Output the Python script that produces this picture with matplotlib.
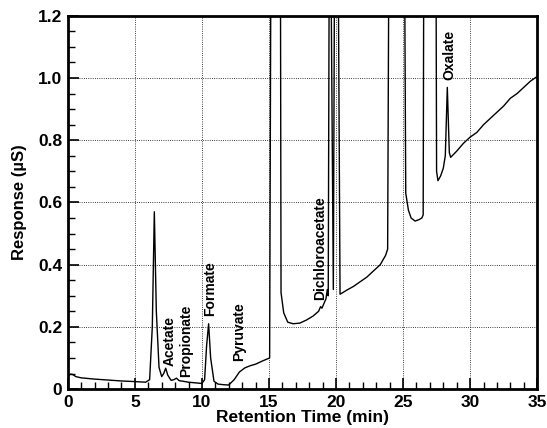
import matplotlib
matplotlib.use("Agg")
import matplotlib.pyplot as plt
from matplotlib.ticker import MultipleLocator

# chromatogram trace (values above 1.2 are off-scale peaks)
time_min = [0.0, 0.2, 0.35, 0.6, 1.0, 2.0, 3.0, 4.0, 5.0, 5.8, 6.1, 6.3, 6.45, 6.6, 6.8,
            7.0, 7.15, 7.3, 7.45, 7.7, 7.9, 8.1, 8.3, 8.6, 9.0, 9.5, 10.0, 10.2, 10.35,
            10.5, 10.65, 10.9, 11.2, 11.6, 12.0, 12.4, 12.8, 13.2, 13.6, 14.0, 14.5,
            15.05, 15.15, 15.85, 15.9, 16.1, 16.4, 16.8, 17.3, 17.8, 18.3, 18.7, 18.85,
            18.95, 19.1, 19.25, 19.35, 19.42, 19.5, 19.6, 19.8, 19.9, 20.15, 20.3, 20.5,
            20.8, 21.3, 21.8, 22.3, 22.8, 23.3, 23.7, 23.85, 23.95, 25.1, 25.2, 25.4,
            25.6, 25.9, 26.2, 26.4, 26.5, 26.55, 27.45, 27.5, 27.6, 27.8, 28.0, 28.15,
            28.3, 28.45, 28.55, 29.0, 29.5, 30.0, 30.5, 31.0, 31.5, 32.0, 32.5, 33.0,
            33.5, 34.0, 34.5, 35.0]
response_us = [0.042, 0.048, 0.047, 0.040, 0.036, 0.032, 0.029, 0.026, 0.024, 0.022, 0.03,
               0.2, 0.57, 0.25, 0.07, 0.04, 0.05, 0.067, 0.045, 0.028, 0.03, 0.035, 0.027,
               0.025, 0.022, 0.02, 0.018, 0.03, 0.14, 0.21, 0.1, 0.025, 0.016, 0.014, 0.013,
               0.03, 0.055, 0.068, 0.075, 0.08, 0.09, 0.10, 1.5, 1.5, 0.31, 0.245, 0.215,
               0.21, 0.212, 0.222, 0.235, 0.25, 0.265, 0.26, 0.275, 0.29, 0.32, 0.3, 1.5,
               1.5, 0.32, 1.5, 1.5, 0.305, 0.31, 0.318, 0.33, 0.345, 0.36, 0.38, 0.4, 0.43,
               0.45, 1.5, 1.5, 0.63, 0.575, 0.55, 0.54, 0.545, 0.55, 0.56, 1.5, 1.5, 0.7,
               0.67, 0.685, 0.71, 0.75, 0.97, 0.76, 0.745, 0.765, 0.79, 0.81, 0.825, 0.85,
               0.87, 0.89, 0.91, 0.935, 0.95, 0.97, 0.99, 1.005]

peak_names = ["Acetate", "Propionate", "Formate", "Pyruvate", "Dichloroacetate", "Oxalate"]
peak_x = [7.6, 8.8, 10.6, 12.75, 18.85, 28.45]
peak_y = [0.075, 0.04, 0.235, 0.09, 0.285, 0.995]

plt.rcParams["font.family"] = ["Liberation Sans", "DejaVu Sans"]
plt.rcParams["font.weight"] = "bold"

fig = plt.figure(figsize=(5.47, 4.28), dpi=100)
ax = fig.add_axes([0.124, 0.091, 0.858, 0.872])

ax.plot(time_min, response_us, color="black", lw=1.0)

for name, x, y in zip(peak_names, peak_x, peak_y):
    ax.text(x, y, name, rotation=90, ha="center", va="bottom", fontsize=10,
            fontweight="bold")

ax.set_xlim(0, 35)
ax.set_ylim(0, 1.2)
ax.xaxis.set_major_locator(MultipleLocator(5))
ax.xaxis.set_minor_locator(MultipleLocator(1))
ax.yaxis.set_major_locator(MultipleLocator(0.2))
ax.yaxis.set_minor_locator(MultipleLocator(0.05))
ax.set_yticks([0, 0.2, 0.4, 0.6, 0.8, 1.0, 1.2])
ax.set_yticklabels(["0", "0.2", "0.4", "0.6", "0.8", "1.0", "1.2"])

ax.grid(True, which="major", color="black", ls=":", lw=0.6)
ax.tick_params(which="both", direction="in", top=False, right=False, labelsize=12.5)
ax.tick_params(which="major", length=8, width=1.2, pad=4)
ax.tick_params(which="minor", length=5, width=1.0)
for s in ax.spines.values():
    s.set_linewidth(2)

ax.set_xlabel("Retention Time (min)", fontsize=12.5, fontweight="bold", labelpad=0)
ax.set_ylabel("Response (µS)", fontsize=12, fontweight="bold", labelpad=8)

fig.savefig("out.png", dpi=100)
